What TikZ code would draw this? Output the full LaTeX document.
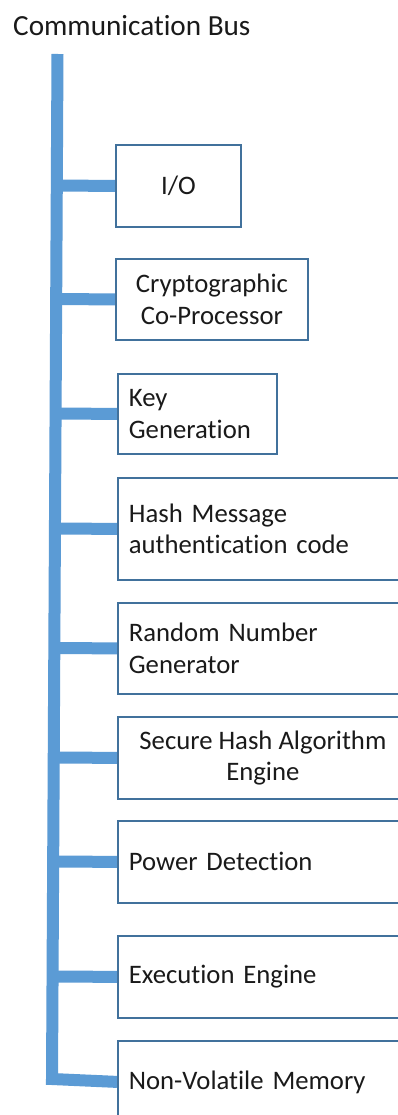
\documentclass[tikz,border=0pt]{standalone}
\usepackage{fontspec}
\setmainfont[Ligatures=NoCommon]{Carlito}
\usetikzlibrary{calc,backgrounds}
\definecolor{busblue}{HTML}{5B9BD5}
\definecolor{boxline}{HTML}{41719C}
\definecolor{ink}{HTML}{1A1A1A}

\begin{document}
\begin{tikzpicture}[x=1pt,y=-1pt,
  unit/.style={draw=boxline, line width=1.8pt, fill=white, anchor=north west,
    inner ysep=0pt, inner xsep=11pt, text=ink,
    font=\fontsize{26.7}{31.5}\selectfont},
  cbox/.style={unit, align=center},
  lbox/.style={unit, align=left, text width=#1},
  bus/.style={draw=busblue, line width=12pt, line cap=butt, line join=miter},
  title/.style={anchor=west, inner sep=0pt, text=ink, font=\fontsize{29.2}{34}\selectfont}]

\useasboundingbox (0,0) rectangle (398,1115);
\clip (0,0) rectangle (398,1115);

\node[title] (title) at (13,26) {Communication Bus};

% functional units hanging off the bus
\node[cbox, minimum width=125pt, minimum height=82pt] (io) at (115,144) {I/O};
\node[cbox, minimum width=192pt, minimum height=81pt] (crypto) at (115,258) {Cryptographic\\Co-Processor};
\node[lbox=137pt, minimum width=159pt, minimum height=80pt] (keygen) at (117,373) {Key\\Generation};
\node[lbox=271pt, minimum width=293pt, minimum height=102pt] (hmac) at (117,477) {Hash Message\\authentication code};
\node[lbox=271pt, minimum width=293pt, minimum height=91pt] (rng) at (117,602) {Random Number\\Generator};
\node[cbox, minimum width=290pt, minimum height=82pt] (sha) at (117,716) {Secure Hash Algorithm\\Engine};
\node[lbox=271pt, minimum width=293pt, minimum height=82pt] (power) at (117,820) {Power Detection};
\node[lbox=271pt, minimum width=293pt, minimum height=82pt] (exec) at (117,935) {Execution Engine};
\node[lbox=271pt, minimum width=293pt, minimum height=82pt] (nvm) at (117,1040) {Non-Volatile Memory};

% the bus itself and its branches
\coordinate (bustop) at (57.5,54);
\coordinate (buscorner) at (52,1079);
\begin{scope}[on background layer]
  \fill[white] (0,0) rectangle (398,1115);
  \draw[bus] (bustop) -- (buscorner) -- (nvm.west);
  \foreach \u in {io,crypto,keygen,hmac,rng,sha,power,exec}
    \draw[bus] ($(bustop)!(\u.west)!(buscorner)$) -- (\u.west);
\end{scope}
\end{tikzpicture}
\end{document}
